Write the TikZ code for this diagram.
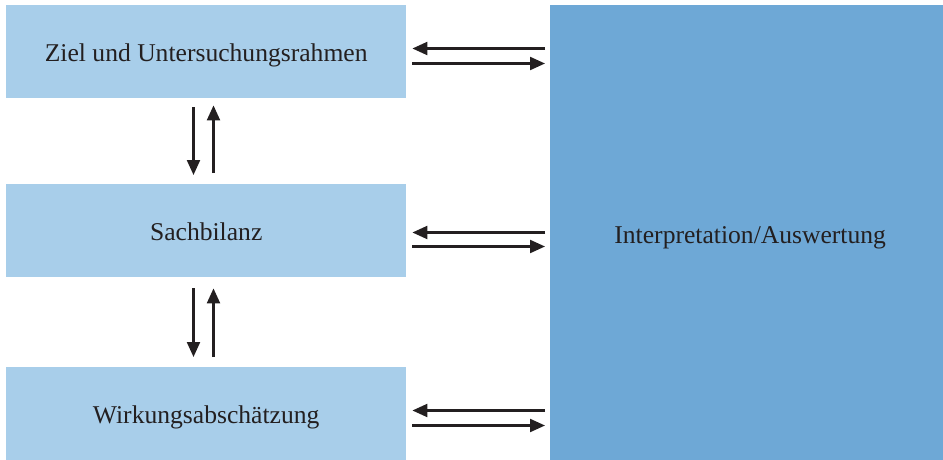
\documentclass[tikz,border=0pt]{standalone}
\usepackage{fontspec}
\setmainfont{Liberation Serif}
\usetikzlibrary{arrows.meta}
\definecolor{lightbox}{HTML}{A8CEEA}
\definecolor{darkbox}{HTML}{6EA8D6}
\definecolor{inkcol}{HTML}{231F20}
\begin{document}
\begin{tikzpicture}[x=1pt,y=-1pt,
  boxtext/.style={font=\fontsize{25.6}{30}\selectfont,text=inkcol,text depth=6pt},
  leftbox/.style={boxtext,text height=25pt,fill=lightbox,draw=none,minimum width=400pt,minimum height=93pt,inner sep=0pt,anchor=north west},
  rightbox/.style={boxtext,text height=28pt,fill=darkbox,draw=none,minimum width=393pt,minimum height=455pt,inner sep=0pt,anchor=north west},
  arr/.style={draw=inkcol,line width=2.2pt,-{Triangle[length=15pt,width=13pt]}}]
\useasboundingbox (0,0) rectangle (943,460);
\node[leftbox] (z) at (6,5) {Ziel und Untersuchungsrahmen};
\node[leftbox] (s) at (6,184) {Sachbilanz};
\node[leftbox] (w) at (6,367) {Wirkungsabschätzung};
\node[rightbox] (r) at (550,5) {\hspace*{7pt}Interpretation/Auswertung};
% horizontal arrows
\draw[arr,shorten <=5pt,shorten >=6pt] (r.west |- 0,48.5) -- (z.east |- 0,48.5);
\draw[arr,shorten <=6pt,shorten >=5pt] (z.east |- 0,63.5) -- (r.west |- 0,63.5);
\draw[arr,shorten <=5pt,shorten >=6pt] (r.west |- 0,232.5) -- (s.east |- 0,232.5);
\draw[arr,shorten <=6pt,shorten >=5pt] (s.east |- 0,246.5) -- (r.west |- 0,246.5);
\draw[arr,shorten <=5pt,shorten >=6pt] (r.west |- 0,410.5) -- (w.east |- 0,410.5);
\draw[arr,shorten <=6pt,shorten >=5pt] (w.east |- 0,425.5) -- (r.west |- 0,425.5);
% vertical arrows
\draw[arr,shorten <=9pt,shorten >=9pt] (z.south -| 193.5,0) -- (s.north -| 193.5,0);
\draw[arr,shorten <=11pt,shorten >=7pt] (s.north -| 213.5,0) -- (z.south -| 213.5,0);
\draw[arr,shorten <=11pt,shorten >=10pt] (s.south -| 193.5,0) -- (w.north -| 193.5,0);
\draw[arr,shorten <=10pt,shorten >=11pt] (w.north -| 213.5,0) -- (s.south -| 213.5,0);
\end{tikzpicture}
\end{document}
